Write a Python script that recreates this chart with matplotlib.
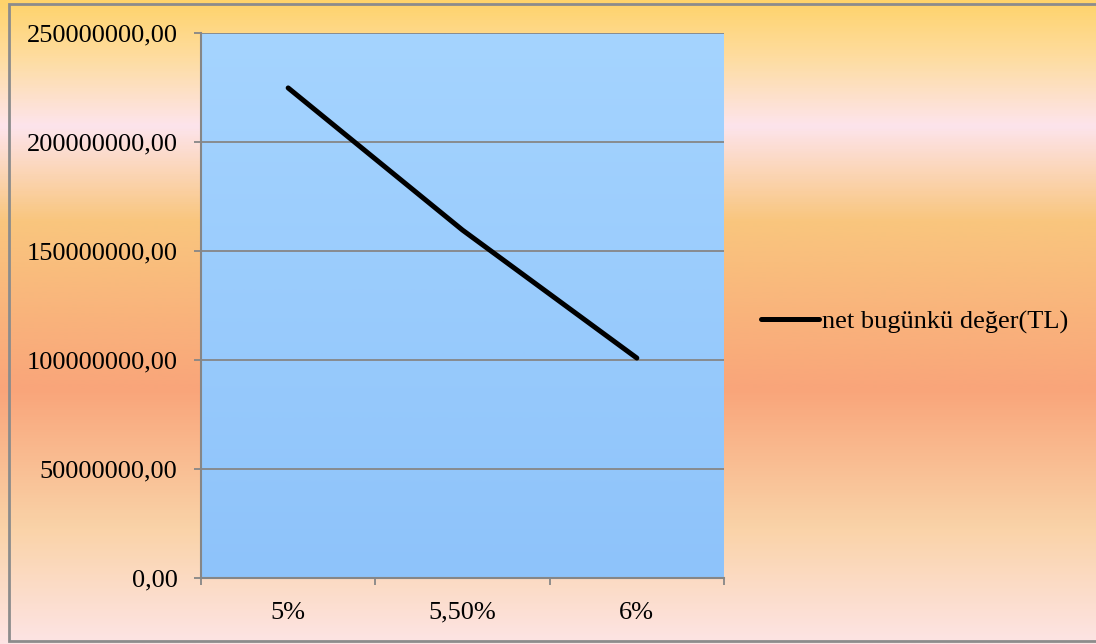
import numpy as np
import matplotlib
matplotlib.use('Agg')
import matplotlib.pyplot as plt
from matplotlib.colors import LinearSegmentedColormap
from matplotlib.ticker import FuncFormatter, FixedLocator

# veriler
oranlar = ['5%', '5,50%', '6%']
net_bugunku_deger = [224800000, 159600000, 100900000]
y_ticks = [0, 50000000, 100000000, 150000000, 200000000, 250000000]
seri_adi = 'net bugünkü değer(TL)'

plt.rcParams['font.family'] = ['Liberation Serif', 'DejaVu Serif']

W, H = 1096, 644
fig = plt.figure(figsize=(W / 100, H / 100), dpi=100)

# arka plan gradyanı (üstten alta)
bg = fig.add_axes([0, 0, 1, 1], zorder=-10)
stops = [(0.0, '#FFD36B'), (60 / H, '#FEDDA4'), (125 / H, '#FDE4EC'), (220 / H, '#F9C67E'),
         (390 / H, '#F9A57A'), (530 / H, '#FAD3A8'), (1.0, '#FDE4E4')]
cmap_bg = LinearSegmentedColormap.from_list('bg', stops)
grad = np.linspace(0, 1, 600).reshape(-1, 1)
bg.imshow(grad, aspect='auto', cmap=cmap_bg, extent=[0, W, 0, H], origin='upper',
          interpolation='bilinear')
# grafik çerçevesi (sağ kenar görünmüyor)
bg.plot([W + 60, 8.5, 8.5, W + 60], [H - 3.5, H - 3.5, H - 641, H - 641], color='#8C8C8C',
        linewidth=2, solid_joinstyle='miter', clip_on=False)
bg.set_xlim(0, W)
bg.set_ylim(0, H)
bg.axis('off')

# çizim alanı
ax = fig.add_axes([201 / W, 1 - 578 / H, 523 / W, 545 / H])
ax.patch.set_alpha(0)
cmap_pa = LinearSegmentedColormap.from_list('pa', ['#A5D4FF', '#8EC3FA'])
ax.imshow(grad, aspect='auto', cmap=cmap_pa, extent=[-0.5, 2.5, 0, 250000000],
          origin='upper', zorder=0)

x = np.arange(len(oranlar))
ax.plot(x, net_bugunku_deger, color='black', linewidth=3.6, solid_capstyle='round',
        solid_joinstyle='round', label=seri_adi, zorder=3)

ax.set_xlim(-0.5, 2.5)
ax.set_ylim(0, 250000000)
ax.set_yticks(y_ticks)
ax.yaxis.set_major_formatter(FuncFormatter(lambda v, p: f'{v:.2f}'.replace('.', ',')))
ax.grid(axis='y', color='#868686', linewidth=1.3, zorder=1)
ax.set_axisbelow(False)

ax.xaxis.set_major_locator(FixedLocator([-0.5, 0.5, 1.5, 2.5]))
ax.xaxis.set_minor_locator(FixedLocator(x))
ax.set_xticklabels([])
ax.set_xticklabels(oranlar, minor=True)
ax.tick_params(axis='x', which='major', length=5, width=1.3, color='#868686', direction='out')
ax.tick_params(axis='x', which='minor', length=0, pad=17, labelsize=19)
ax.tick_params(axis='y', length=5, width=1.3, color='#868686', direction='out', pad=12, labelsize=19)

for s in ['top', 'right']:
    ax.spines[s].set_visible(False)
for s in ['left', 'bottom']:
    ax.spines[s].set_color('#868686')
    ax.spines[s].set_linewidth(1.5)

fig.legend(loc='center left', bbox_to_anchor=(761 / W, 1 - 322 / H), frameon=False,
           fontsize=19, handlelength=2.2, handletextpad=0.1, borderpad=0, borderaxespad=0)

fig.savefig('out.png', dpi=100)
